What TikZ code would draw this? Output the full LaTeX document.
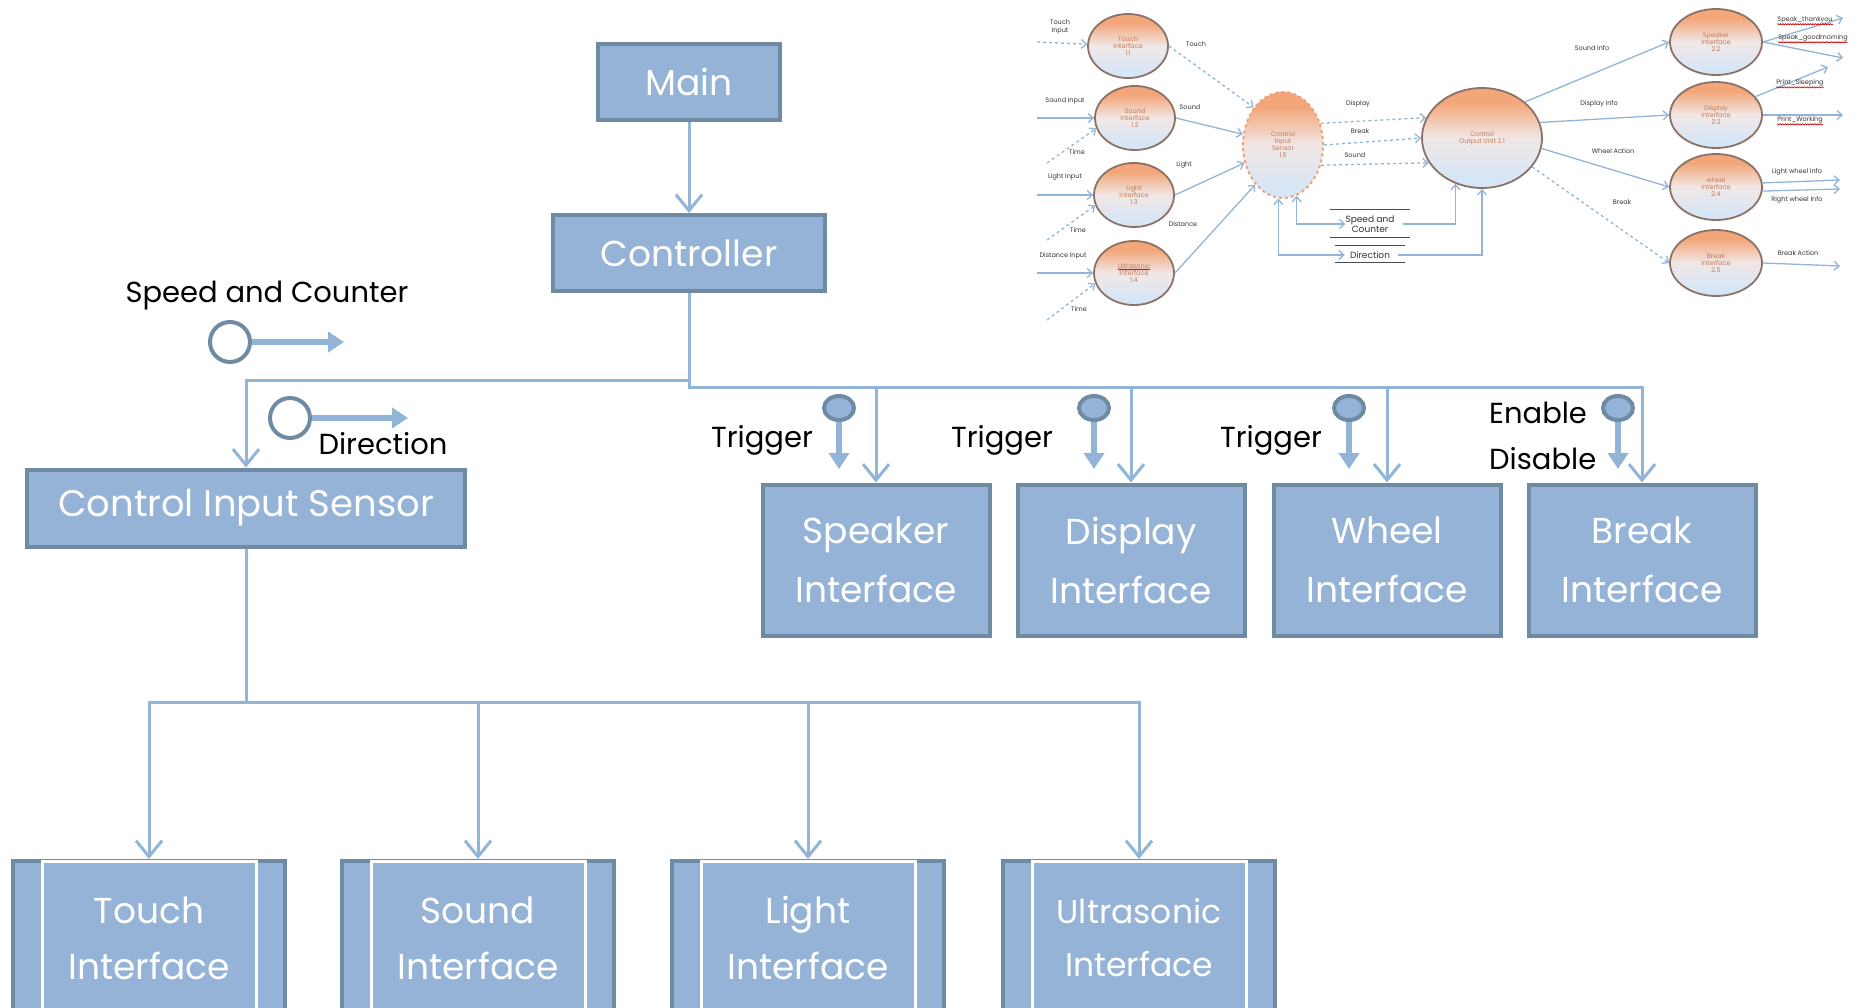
\documentclass[tikz,border=0pt]{standalone}
\usepackage{fontspec}
\setmainfont{Poppins}
\usetikzlibrary{arrows.meta,shapes.geometric,decorations.pathmorphing}
\definecolor{boxfill}{HTML}{95B3D7}
\definecolor{boxline}{HTML}{6F8BA3}
\definecolor{linkcol}{HTML}{92B4D6}
\definecolor{bubtop}{HTML}{F2A67A}
\definecolor{bubmid}{HTML}{F1E7E6}
\definecolor{bubbot}{HTML}{D6E6F6}
\definecolor{bubline}{HTML}{8C7264}
\definecolor{bubtext}{HTML}{C47A55}
\definecolor{dashorng}{HTML}{EDA27A}
\pgfdeclareverticalshading{bubble}{100bp}{color(0bp)=(bubbot); color(30bp)=(bubbot); color(50bp)=(bubmid); color(68bp)=(bubtop); color(100bp)=(bubtop)}

\begin{document}
\begin{tikzpicture}[x=1pt, y=-1pt,
  box/.style={draw=boxline, fill=boxfill, line width=4, text=white, align=center, inner sep=0, font=\fontsize{36}{59}\selectfont},
  leaf/.style={box, anchor=north, minimum width=272, minimum height=154, font=\fontsize{36}{56}\selectfont},
  link/.style={draw=linkcol, line width=3, -{Straight Barb[length=16pt,width=26pt]}},
  push/.style={draw=linkcol, line width=6, -{Triangle[length=16pt,width=20pt]}},
  hole/.style={circle, draw=boxline, fill=white, line width=4, minimum size=40, inner sep=0},
  trig/.style={ellipse, draw=boxline, fill=boxfill, line width=4, minimum width=30, minimum height=24, inner sep=0},
  lab/.style={font=\fontsize{29}{46}\selectfont, inner sep=0},
  bub/.style={ellipse, draw=bubline, line width=1.8, shading=bubble, text=bubtext, align=center, inner sep=0, minimum width=80, minimum height=64, font=\fontsize{6.5}{7}\selectfont},
  ia/.style={draw=linkcol, line width=1.3, -{Straight Barb[length=5pt,width=9pt]}},
  tiny/.style={font=\fontsize{6.5}{7.5}\selectfont, text=black!80, align=center, inner sep=0},
  store/.style={font=\fontsize{9}{10}\selectfont, align=center, inner sep=0, text=black!80},
  squig/.style={draw=red!80!black, line width=0.6, decorate, decoration={snake, amplitude=0.6pt, segment length=2.5pt}}
]
\clip (0,0) rectangle (1863,1008);

\node[box, minimum width=182, minimum height=76] (main) at (689,82) {Main};
\node[box, minimum width=272, minimum height=76] (ctrl) at (689,253) {Controller};
\node[box, minimum width=438, minimum height=77, font=\fontsize{37}{44}\selectfont] (cis) at (246,508) {Control Input Sensor};

\node[box, minimum width=227, minimum height=151] (speaker) at (876,560) {Speaker\\Interface};
\node[box, minimum width=227, minimum height=151] (display) at (1131,560) {Display\\Interface};
\node[box, minimum width=227, minimum height=151] (wheel) at (1387,560) {Wheel\\Interface};
\node[box, minimum width=227, minimum height=151] (brake) at (1642,560) {Break\\Interface};

\node[leaf] (touch) at (149,859) {Touch\\Interface};
\node[leaf] (sound) at (478,859) {Sound\\Interface};
\node[leaf] (light) at (808,859) {Light\\Interface};
\node[leaf, font=\fontsize{33}{53}\selectfont] (ultra) at (1139,859) {Ultrasonic\\Interface};
\foreach \n in {touch,sound,light,ultra}
  \draw[white, line width=3] ([xshift=31pt,yshift=-2pt]\n.north west) rectangle ([xshift=-31pt,yshift=-20pt]\n.south east);

\draw[link] (main) -- (ctrl);
\draw[link] (ctrl.south) -- ++(0,87) -| (cis.north);
\foreach \n in {speaker,display,wheel,brake}
  \draw[link] (ctrl.south) -- ++(0,94) -| (\n.north);
\foreach \n in {touch,sound,light,ultra}
  \draw[link] (cis.south) -- ++(0,154) -| (\n.north);

\node[lab] (spdtext) at (267,296) {Speed and Counter};
\node[hole] (spd) at (230,342) {};
\draw[push] (spd.east) -- ++(92,0);
\node[hole] (dir) at (290,418) {};
\draw[push] (dir.east) -- ++(96,0);
\node[lab] (dirtext) at (383,444) {Direction};

\node[lab] (trg1) at (762,440) {Trigger};
\node[lab] (trg2) at (1002,440) {Trigger};
\node[lab] (trg3) at (1271,440) {Trigger};
\node[lab, anchor=west, align=left] (enab) at (1489,436) {Enable\\Disable};
\node[trig] (t1) at (839,408) {};
\node[trig] (t2) at (1094,408) {};
\node[trig] (t3) at (1349,408) {};
\node[trig] (t4) at (1618,408) {};
\foreach \n in {t1,t2,t3,t4}
  \draw[push] (\n.south) -- ++(0,47);

\node[bub] (t11) at (1128,46) {Touch\\Interface\\1.1};
\node[bub] (s12) at (1135,118) {Sound\\Interface\\1.2};
\node[bub] (l13) at (1134,195) {Light\\Interface\\1.3};
\node[bub] (u14) at (1134,273) {Ultrasonic\\Interface\\1.4};
\node[bub, draw=dashorng, line width=2, dashed, minimum width=80, minimum height=106] (cis15) at (1283,145) {Control\\Input\\Sensor\\1.5};
\node[bub, minimum width=120, minimum height=100] (cou21) at (1482,138) {Control\\Output Unit 2.1};
\node[bub, minimum width=92, minimum height=66] (sp22) at (1716,42) {Speaker\\Interface\\2.2};
\node[bub, minimum width=92, minimum height=66] (dp23) at (1716,115) {Display\\Interface\\2.3};
\node[bub, minimum width=92, minimum height=66] (wh24) at (1716,187) {wheel\\Interface\\2.4};
\node[bub, minimum width=92, minimum height=66] (br25) at (1716,263) {Break\\Interface\\2.5};
\draw[squig] (1118,269.5) -- (1150,269.5);

\node[store] (spstore) at (1370,224) {Speed and\\Counter};
\node[store] (dirstore) at (1370,255) {Direction};
\draw[black!70, line width=1] (1330,210) -- (1410,210) (1330,238) -- (1410,238);
\draw[black!70, line width=1] (1335,246) -- (1405,246) (1335,263) -- (1405,263);

\foreach \nm/\x/\y in {ti/1037/42, si/1037/118, st/1047/163, li/1037/195, lt/1047/240, di/1037/273, ut/1047/320,
  o1/1843/18, o2/1843/58, o3/1828/67, o4/1843/115, o5/1840/180, o6/1840/189, o7/1840/266}
  \coordinate (\nm) at (\x,\y);

\draw[ia, dashed] (ti) -- (t11);
\draw[ia] (si) -- (s12);
\draw[ia, dashed] (st) -- (s12.195);
\draw[ia] (li) -- (l13);
\draw[ia, dashed] (lt) -- (l13.195);
\draw[ia] (di) -- (u14);
\draw[ia, dashed] (ut) -- (u14.195);
\draw[ia, dashed] (t11.east) -- (cis15.128);
\draw[ia] (s12.east) -- (cis15.165);
\draw[ia] (l13.east) -- (cis15.205);
\draw[ia] (u14.east) -- (cis15.235);
\draw[ia, dashed] (cis15.30) -- (cou21.160);
\draw[ia, dashed] (cis15.east) -- (cou21.west);
\draw[ia, dashed] (cis15.-28) -- (cou21.205);
\draw[ia, {Straight Barb[length=5pt,width=9pt]}-{Straight Barb[length=5pt,width=9pt]}] (cis15.-75) |- (spstore.west);
\draw[ia, {Straight Barb[length=5pt,width=9pt]}-{Straight Barb[length=5pt,width=9pt]}] (cis15.-95) |- ([xshift=-5pt]dirstore.west);
\draw[ia] ([xshift=8pt]spstore.east) -| (cou21.-120);
\draw[ia] ([xshift=8pt]dirstore.east) -| (cou21.south);
\draw[ia] (cou21.40) -- (sp22.west);
\draw[ia] (cou21.15) -- (dp23.west);
\draw[ia] (cou21.-10) -- (wh24.west);
\draw[ia, dashed] (cou21.-30) -- (br25.west);
\draw[ia] (sp22.east) -- (o1);
\draw[ia] (sp22.east) -- (o2);
\draw[ia] (dp23.25) -- (o3);
\draw[ia] (dp23.east) -- (o4);
\draw[ia] (wh24.5) -- (o5);
\draw[ia] (wh24.-5) -- (o6);
\draw[ia] (br25.east) -- (o7);

\node[tiny] (lb1) at (1060,27) {Touch\\Input};
\node[tiny] (lb2) at (1196,44) {Touch};
\node[tiny] (lb3) at (1065,101) {Sound Input};
\node[tiny] (lb4) at (1077,152) {Time};
\node[tiny] (lb5) at (1190,107) {Sound};
\node[tiny] (lb6) at (1065,177) {Light Input};
\node[tiny] (lb7) at (1078,230) {Time};
\node[tiny] (lb8) at (1184,165) {Light};
\node[tiny] (lb9) at (1183,224) {Distance};
\node[tiny] (lb10) at (1063,256) {Distance Input};
\node[tiny] (lb11) at (1079,309) {Time};
\node[tiny] (lb12) at (1358,104) {Display};
\node[tiny] (lb13) at (1360,131) {Break};
\node[tiny] (lb14) at (1355,155) {Sound};
\node[tiny] (lb15) at (1592,48) {Sound Info};
\node[tiny] (lb16) at (1599,104) {Display Info};
\node[tiny] (lb17) at (1613,151) {Wheel Action};
\node[tiny] (lb18) at (1622,202) {Break};
\node[tiny] (sp1) at (1805,20) {Speak\_thankyou};
\node[tiny] (sp2) at (1813,38) {Speak\_goodmorning};
\node[tiny] (pr1) at (1800,83) {Print\_Sleeping};
\node[tiny] (pr2) at (1800,120) {Print\_Working};
\node[tiny] (lb19) at (1797,172) {Light wheel Info};
\node[tiny] (lb20) at (1797,200) {Right wheel Info};
\node[tiny] (lb21) at (1798,253) {Break Action};
\foreach \n in {sp1,sp2,pr1,pr2}
  \draw[squig] ([yshift=-0.8pt]\n.south west) -- ([yshift=-0.8pt]\n.south east);
\end{tikzpicture}
\end{document}
